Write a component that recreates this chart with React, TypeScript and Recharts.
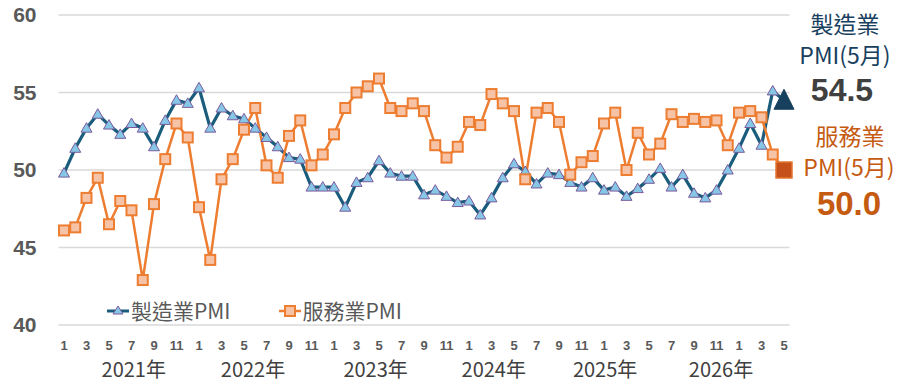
import React from "react";
import { LineChart, Line, XAxis, YAxis, CartesianGrid } from "recharts";

const YEARS = [2021, 2022, 2023, 2024, 2025, 2026];
const LAST_MONTH = 5;

// month categories, 2021-01 .. 2026-05
const CATEGORIES: string[] = YEARS.flatMap((y) =>
  Array.from({ length: y === 2026 ? LAST_MONTH : 12 }, (_, m) => `${y}-${m + 1}`)
);

const MANUFACTURING = [
  49.8, 51.4, 52.7, 53.6, 52.9, 52.3, 53.0, 52.7, 51.5, 53.2, 54.5,
  54.3, 55.3, 52.7, 54.0, 53.5, 53.3, 52.7, 52.1, 51.5, 50.8, 50.7,
  48.9, 48.9, 48.9, 47.6, 49.2, 49.5, 50.6, 49.8, 49.6, 49.6, 48.4,
  48.7, 48.3, 47.9, 48.0, 47.1, 48.2, 49.5, 50.4, 49.9, 49.1,
  49.8, 49.7, 49.2, 48.9, 49.5, 48.7, 48.9, 48.3, 48.8, 49.4, 50.1,
  48.9, 49.7, 48.5, 48.2, 48.7, 50.0, 51.4, 53.0, 51.6, 55.1, 54.5,
];

const SERVICES = [
  46.1, 46.3, 48.2, 49.5, 46.5, 48.0, 47.4, 42.9, 47.8, 50.7, 53.0,
  52.1, 47.6, 44.2, 49.4, 50.7, 52.6, 54.0, 50.3, 49.5, 52.2, 53.2,
  50.3, 51.0, 52.3, 54.0, 55.0, 55.4, 55.9, 54.0, 53.8, 54.3, 53.8,
  51.6, 50.8, 51.5, 53.1, 52.9, 54.9, 54.3, 53.8, 49.4, 53.7,
  54.0, 53.1, 49.7, 50.5, 50.9, 53.0, 53.7, 50.0, 52.4, 51.0, 51.7,
  53.6, 53.1, 53.3, 53.1, 53.2, 51.6, 53.7, 53.8, 53.4, 51.0, 50.0,
];

const Y_TICKS = [40, 45, 50, 55, 60];
// where the year captions sit, in month-index units
const YEAR_POS = [6.2, 16.8, 27.7, 38.2, 48.1, 58.4];

const data = CATEGORIES.map((c, i) => ({
  idx: i,
  cat: c,
  mfg: MANUFACTURING[i],
  svc: SERVICES[i],
}));

const LAST = CATEGORIES.length - 1;
const NAVY = "#17405E";
const MFG_LINE = "#1A5C7C";
const SVC_LINE = "#ED7D31";
const BROWN = "#C55A11";
const cjk = "'Noto Sans CJK TC', 'Noto Sans', sans-serif";
const arial = "'Liberation Sans', Arial, sans-serif";

const TriDot = (props: any) => {
  const { cx, cy, index } = props;
  if (cx == null || cy == null) return null;
  if (index === LAST) {
    return (
      <polygon
        key={`t-${index}`}
        points={`${cx},${cy - 11} ${cx + 10},${cy + 9} ${cx - 10},${cy + 9}`}
        fill={NAVY}
        stroke={NAVY}
      />
    );
  }
  return (
    <polygon
      key={`t-${index}`}
      points={`${cx},${cy - 5.5} ${cx + 5.5},${cy + 4} ${cx - 5.5},${cy + 4}`}
      fill="#86C7E6"
      stroke="#7A5A9C"
      strokeWidth={1}
    />
  );
};

const SqDot = (props: any) => {
  const { cx, cy, index } = props;
  if (cx == null || cy == null) return null;
  if (index === LAST) {
    return (
      <rect
        key={`s-${index}`}
        x={cx - 8}
        y={cy - 8}
        width={16}
        height={16}
        fill="#C5501A"
        stroke="#E3762F"
        strokeWidth={1.5}
      />
    );
  }
  return (
    <rect
      key={`s-${index}`}
      x={cx - 5}
      y={cy - 5}
      width={10}
      height={10}
      fill="#F7C3A6"
      stroke={SVC_LINE}
      strokeWidth={2}
    />
  );
};

const LegendBox = () => (
  <div
    style={{
      position: "absolute",
      top: 300,
      left: 106,
      display: "flex",
      alignItems: "center",
      fontFamily: cjk,
      fontSize: 21,
      color: "#595959",
      lineHeight: 1,
    }}
  >
    <svg width={24} height={14}>
      <line x1={1} y1={7} x2={23} y2={7} stroke={MFG_LINE} strokeWidth={3} />
      <polygon points="12,2 17,10 7,10" fill="#86C7E6" stroke="#7A5A9C" strokeWidth={1} />
    </svg>
    <span style={{ marginLeft: 1 }}>製造業PMI</span>
    <svg width={24} height={14} style={{ marginLeft: 47 }}>
      <line x1={1} y1={7} x2={23} y2={7} stroke={SVC_LINE} strokeWidth={2.5} />
      <rect x={7} y={2} width={10} height={10} fill="#F7C3A6" stroke={SVC_LINE} strokeWidth={2} />
    </svg>
    <span style={{ marginLeft: 1 }}>服務業PMI</span>
  </div>
);

const label = (top: number, left: number, text: string, style: React.CSSProperties) => (
  <div style={{ position: "absolute", top, left, width: 110, textAlign: "center", lineHeight: 1, ...style }}>
    {text}
  </div>
);

export default function App() {
  return (
    <div style={{ position: "relative", width: 901, height: 379, background: "#fff", overflow: "hidden" }}>
      <style>{`body{margin:0}`}</style>
      <LineChart
        width={901}
        height={379}
        data={data}
        margin={{ top: 15, right: 111.5, bottom: 0, left: 0 }}
      >
        <CartesianGrid vertical={false} stroke="#D9D9D9" strokeWidth={1.5} />
        <XAxis
          dataKey="cat"
          interval={1}
          padding={{ left: 5.5, right: 5.5 }}
          axisLine={false}
          tickLine={false}
          tickSize={0}
          tickMargin={16}
          height={25}
          tick={{ fontSize: 13, fontWeight: 700, fill: "#595959", fontFamily: arial }}
          tickFormatter={(v: string) => v.split("-")[1]}
        />
        <XAxis
          xAxisId="year"
          type="number"
          dataKey="idx"
          domain={[0, LAST]}
          ticks={YEAR_POS}
          padding={{ left: 5.5, right: 5.5 }}
          axisLine={false}
          tickLine={false}
          tickSize={0}
          tickMargin={13}
          height={29}
          tick={{ fontSize: 20, fill: "#404040", fontFamily: cjk }}
          tickFormatter={(v: number) => `${YEARS[YEAR_POS.indexOf(v)]}年`}
        />
        <YAxis
          domain={[40, 60]}
          ticks={Y_TICKS}
          width={58.5}
          axisLine={false}
          tickLine={false}
          tickSize={0}
          tickMargin={22}
          tick={{ fontSize: 21, fontWeight: 700, fill: "#595959", fontFamily: arial }}
        />
        <Line
          type="linear"
          dataKey="mfg"
          name="製造業PMI"
          stroke={MFG_LINE}
          strokeWidth={3.2}
          dot={<TriDot />}
          activeDot={false}
          isAnimationActive={false}
        />
        <Line
          type="linear"
          dataKey="svc"
          name="服務業PMI"
          stroke={SVC_LINE}
          strokeWidth={2.5}
          dot={<SqDot />}
          activeDot={false}
          isAnimationActive={false}
        />
      </LineChart>
      <LegendBox />
      {label(12, 790, "製造業", { fontFamily: cjk, fontSize: 23, color: NAVY })}
      {label(43, 790, "PMI(5月)", { fontFamily: cjk, fontSize: 23, color: NAVY })}
      {label(74, 787, "54.5", { fontFamily: arial, fontSize: 32, fontWeight: 700, color: "#404040" })}
      {label(124, 795, "服務業", { fontFamily: cjk, fontSize: 23, color: BROWN })}
      {label(155, 794, "PMI(5月)", { fontFamily: cjk, fontSize: 23, color: BROWN })}
      {label(187, 794, "50.0", { fontFamily: arial, fontSize: 33, fontWeight: 700, color: BROWN })}
    </div>
  );
}
